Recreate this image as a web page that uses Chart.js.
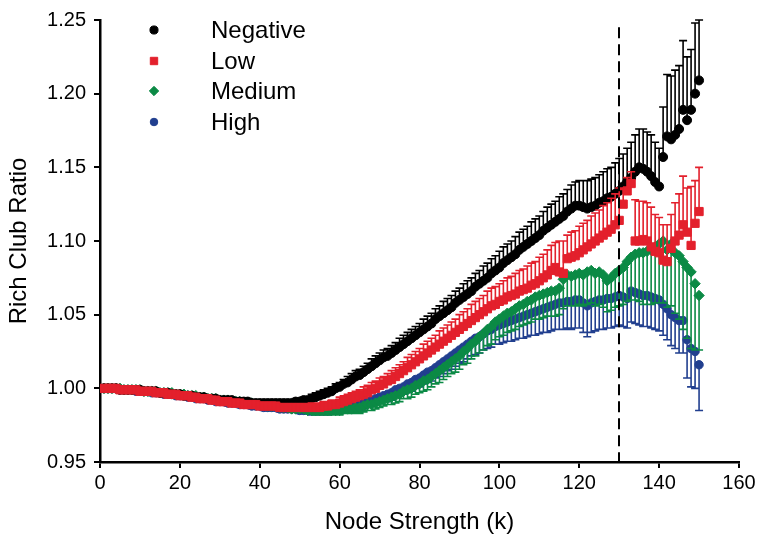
<!DOCTYPE html>
<html>
<head>
<meta charset="utf-8">
<script src="https://cdn.jsdelivr.net/npm/chart.js@4.4.1/dist/chart.umd.min.js"></script>
<style>
  html, body { margin: 0; padding: 0; background: #fff; }
</style>
</head>
<body>
<canvas id="chart" width="760" height="547"></canvas>
<script>
// node strength k for every point
const nodeStrength = [
  1,2,3,4,5,6,7,8,9,10,11,12,13,14,15,16,17,18,19,20,
  21,22,23,24,25,26,27,28,29,30,31,32,33,34,35,36,37,38,39,40,
  41,42,43,44,45,46,47,48,49,50,51,52,53,54,55,56,57,58,59,60,
  61,62,63,64,65,66,67,68,69,70,71,72,73,74,75,76,77,78,79,80,
  81,82,83,84,85,86,87,88,89,90,91,92,93,94,95,96,97,98,99,100,
  101,102,103,104,105,106,107,108,109,110,111,112,113,114,115,116,117,118,119,120,
  121,122,123,124,125,126,127,128,129,130,131,132,133,134,135,136,137,138,139,140,
  141,142,143,144,145,146,147,148,149,150
];

const negative = [
  1.000,1.000,1.000,1.000,0.999,0.999,0.999,0.999,0.999,0.999,
  0.998,0.998,0.998,0.998,0.997,0.997,0.997,0.996,0.996,0.996,
  0.995,0.995,0.995,0.994,0.994,0.994,0.993,0.993,0.993,0.992,
  0.992,0.992,0.992,0.991,0.991,0.991,0.991,0.990,0.990,0.990,
  0.990,0.990,0.990,0.990,0.990,0.990,0.990,0.990,0.991,0.991,
  0.992,0.992,0.993,0.994,0.995,0.996,0.997,0.998,1.000,1.001,
  1.003,1.004,1.006,1.008,1.009,1.011,1.013,1.015,1.017,1.019,
  1.021,1.022,1.024,1.026,1.028,1.030,1.032,1.034,1.036,1.038,
  1.040,1.042,1.044,1.047,1.049,1.051,1.053,1.055,1.058,1.060,
  1.062,1.064,1.066,1.069,1.071,1.073,1.075,1.078,1.080,1.082,
  1.085,1.087,1.089,1.091,1.094,1.096,1.098,1.100,1.102,1.104,
  1.107,1.109,1.111,1.113,1.115,1.117,1.120,1.122,1.124,1.124,
  1.123,1.122,1.123,1.124,1.126,1.127,1.129,1.130,1.132,1.134,
  1.137,1.140,1.143,1.147,1.150,1.149,1.147,1.144,1.140,1.137,
  1.157,1.171,1.169,1.172,1.176,1.189,1.182,1.189,1.200,1.209
];
const negativeErr = [
  0.001,0.001,0.001,0.001,0.001,0.001,0.001,0.001,0.001,0.001,
  0.001,0.001,0.001,0.001,0.001,0.001,0.001,0.001,0.001,0.001,
  0.001,0.001,0.001,0.001,0.001,0.001,0.001,0.001,0.001,0.001,
  0.001,0.001,0.001,0.002,0.002,0.002,0.002,0.002,0.002,0.002,
  0.002,0.002,0.002,0.002,0.002,0.002,0.002,0.002,0.002,0.002,
  0.002,0.002,0.003,0.003,0.003,0.003,0.003,0.003,0.003,0.003,
  0.003,0.004,0.004,0.004,0.004,0.004,0.004,0.005,0.005,0.005,
  0.005,0.005,0.005,0.005,0.006,0.006,0.006,0.006,0.006,0.006,
  0.007,0.007,0.007,0.007,0.007,0.008,0.008,0.008,0.008,0.008,
  0.009,0.009,0.009,0.009,0.009,0.010,0.010,0.010,0.010,0.011,
  0.011,0.011,0.011,0.012,0.012,0.012,0.012,0.013,0.013,0.013,
  0.013,0.014,0.014,0.014,0.015,0.015,0.015,0.016,0.016,0.017,
  0.018,0.019,0.019,0.019,0.019,0.020,0.020,0.020,0.021,0.022,
  0.022,0.023,0.024,0.025,0.026,0.027,0.027,0.028,0.027,0.026,
  0.034,0.042,0.043,0.044,0.043,0.047,0.043,0.041,0.048,0.041
];

const low = [
  1.000,1.000,1.000,1.000,0.999,0.999,0.999,0.999,0.999,0.998,
  0.998,0.998,0.998,0.997,0.997,0.997,0.996,0.996,0.996,0.995,
  0.995,0.995,0.994,0.994,0.993,0.993,0.993,0.992,0.992,0.991,
  0.991,0.991,0.990,0.990,0.990,0.989,0.989,0.989,0.989,0.988,
  0.988,0.988,0.988,0.988,0.987,0.987,0.987,0.987,0.987,0.987,
  0.987,0.987,0.987,0.987,0.987,0.988,0.988,0.989,0.989,0.990,
  0.991,0.992,0.993,0.994,0.995,0.996,0.997,0.999,1.000,1.002,
  1.003,1.005,1.006,1.008,1.010,1.012,1.014,1.016,1.018,1.020,
  1.022,1.024,1.026,1.028,1.030,1.032,1.034,1.036,1.038,1.040,
  1.042,1.044,1.046,1.048,1.050,1.052,1.054,1.056,1.057,1.059,
  1.060,1.062,1.063,1.064,1.066,1.067,1.068,1.070,1.071,1.073,
  1.075,1.077,1.080,1.082,1.079,1.078,1.088,1.089,1.090,1.092,
  1.094,1.096,1.098,1.100,1.102,1.104,1.106,1.108,1.111,1.114,
  1.125,1.134,1.139,1.100,1.100,1.101,1.100,1.096,1.093,1.092,
  1.087,1.086,1.095,1.100,1.104,1.111,1.106,1.097,1.112,1.120
];
const lowErr = [
  0.001,0.001,0.001,0.001,0.001,0.001,0.001,0.001,0.001,0.001,
  0.001,0.001,0.001,0.001,0.001,0.001,0.001,0.001,0.001,0.001,
  0.001,0.001,0.001,0.001,0.001,0.001,0.001,0.001,0.001,0.001,
  0.002,0.002,0.002,0.002,0.002,0.002,0.002,0.002,0.002,0.002,
  0.002,0.002,0.002,0.002,0.002,0.002,0.002,0.002,0.002,0.002,
  0.002,0.002,0.003,0.003,0.003,0.003,0.003,0.003,0.003,0.004,
  0.004,0.004,0.004,0.004,0.004,0.005,0.005,0.005,0.005,0.005,
  0.005,0.005,0.006,0.006,0.006,0.006,0.007,0.007,0.007,0.007,
  0.008,0.008,0.008,0.008,0.009,0.009,0.009,0.009,0.009,0.010,
  0.010,0.010,0.011,0.011,0.011,0.011,0.012,0.012,0.012,0.012,
  0.013,0.013,0.013,0.014,0.014,0.014,0.015,0.015,0.015,0.016,
  0.016,0.017,0.017,0.017,0.021,0.022,0.016,0.017,0.017,0.018,
  0.018,0.018,0.019,0.019,0.019,0.020,0.020,0.021,0.021,0.022,
  0.010,0.009,0.008,0.028,0.027,0.026,0.026,0.027,0.025,0.024,
  0.024,0.025,0.023,0.026,0.028,0.033,0.030,0.040,0.029,0.030
];

const medium = [
  1.000,1.000,1.000,1.000,1.000,0.999,0.999,0.999,0.999,0.999,
  0.998,0.998,0.998,0.998,0.997,0.997,0.997,0.997,0.996,0.996,
  0.996,0.995,0.995,0.995,0.994,0.994,0.993,0.993,0.993,0.992,
  0.992,0.992,0.991,0.991,0.991,0.990,0.990,0.990,0.989,0.989,
  0.989,0.988,0.988,0.988,0.987,0.987,0.987,0.986,0.986,0.986,
  0.986,0.985,0.985,0.985,0.985,0.985,0.985,0.985,0.985,0.985,
  0.986,0.986,0.986,0.987,0.987,0.988,0.989,0.989,0.990,0.991,
  0.992,0.993,0.994,0.995,0.996,0.998,0.999,1.000,1.002,1.003,
  1.005,1.006,1.008,1.010,1.012,1.014,1.016,1.018,1.020,1.022,
  1.025,1.027,1.030,1.032,1.035,1.037,1.040,1.042,1.045,1.047,
  1.049,1.051,1.052,1.054,1.056,1.057,1.059,1.060,1.062,1.063,
  1.064,1.065,1.066,1.066,1.068,1.074,1.077,1.076,1.077,1.078,
  1.077,1.079,1.080,1.078,1.079,1.077,1.073,1.075,1.078,1.080,
  1.082,1.086,1.089,1.091,1.092,1.092,1.093,1.094,1.096,1.098,
  1.100,1.094,1.098,1.092,1.090,1.086,1.082,1.079,1.071,1.063
];
const mediumErr = [
  0.001,0.001,0.001,0.001,0.001,0.001,0.001,0.001,0.001,0.001,
  0.001,0.001,0.001,0.001,0.001,0.001,0.001,0.001,0.001,0.001,
  0.001,0.001,0.001,0.001,0.001,0.001,0.001,0.001,0.001,0.001,
  0.002,0.002,0.002,0.002,0.002,0.002,0.002,0.002,0.002,0.002,
  0.002,0.002,0.002,0.002,0.002,0.002,0.002,0.002,0.002,0.002,
  0.002,0.002,0.002,0.003,0.003,0.003,0.003,0.003,0.003,0.003,
  0.003,0.003,0.003,0.003,0.004,0.004,0.004,0.004,0.004,0.004,
  0.004,0.004,0.005,0.005,0.005,0.005,0.006,0.006,0.006,0.006,
  0.007,0.007,0.007,0.007,0.008,0.008,0.008,0.008,0.009,0.009,
  0.009,0.010,0.010,0.010,0.011,0.011,0.011,0.012,0.012,0.012,
  0.013,0.013,0.013,0.014,0.014,0.014,0.015,0.015,0.015,0.016,
  0.016,0.016,0.017,0.017,0.018,0.020,0.021,0.020,0.021,0.021,
  0.021,0.022,0.022,0.022,0.022,0.022,0.021,0.022,0.023,0.024,
  0.025,0.027,0.029,0.031,0.033,0.035,0.036,0.037,0.038,0.040,
  0.042,0.039,0.042,0.041,0.043,0.046,0.048,0.052,0.045,0.037
];

const high = [
  1.000,1.000,1.000,1.000,0.999,0.999,0.999,0.999,0.998,0.998,
  0.998,0.998,0.997,0.997,0.997,0.996,0.996,0.996,0.995,0.995,
  0.995,0.994,0.994,0.993,0.993,0.993,0.992,0.992,0.991,0.991,
  0.991,0.990,0.990,0.990,0.989,0.989,0.989,0.988,0.988,0.988,
  0.987,0.987,0.987,0.987,0.986,0.986,0.986,0.986,0.986,0.985,
  0.985,0.985,0.985,0.985,0.985,0.985,0.985,0.986,0.986,0.986,
  0.987,0.987,0.988,0.988,0.989,0.990,0.991,0.992,0.993,0.994,
  0.995,0.996,0.997,0.999,1.000,1.001,1.003,1.004,1.006,1.007,
  1.009,1.011,1.012,1.014,1.016,1.018,1.020,1.022,1.024,1.026,
  1.028,1.030,1.032,1.034,1.035,1.037,1.039,1.040,1.042,1.043,
  1.044,1.045,1.046,1.047,1.048,1.049,1.050,1.051,1.052,1.053,
  1.054,1.055,1.056,1.057,1.058,1.058,1.059,1.059,1.060,1.060,
  1.058,1.056,1.058,1.059,1.060,1.060,1.061,1.061,1.062,1.063,
  1.062,1.061,1.066,1.065,1.064,1.063,1.063,1.062,1.061,1.060,
  1.057,1.054,1.050,1.048,1.046,1.046,1.033,1.027,1.025,1.016
];
const highErr = [
  0.001,0.001,0.001,0.001,0.001,0.001,0.001,0.001,0.001,0.001,
  0.001,0.001,0.001,0.001,0.001,0.001,0.001,0.001,0.001,0.001,
  0.001,0.001,0.001,0.001,0.001,0.001,0.001,0.001,0.001,0.001,
  0.002,0.002,0.002,0.002,0.002,0.002,0.002,0.002,0.002,0.002,
  0.002,0.002,0.002,0.002,0.002,0.002,0.002,0.002,0.002,0.002,
  0.002,0.002,0.003,0.003,0.003,0.003,0.003,0.003,0.003,0.003,
  0.003,0.003,0.003,0.004,0.004,0.004,0.004,0.004,0.004,0.004,
  0.004,0.005,0.005,0.005,0.005,0.005,0.006,0.006,0.006,0.006,
  0.006,0.007,0.007,0.007,0.008,0.008,0.008,0.009,0.009,0.009,
  0.010,0.010,0.010,0.011,0.011,0.011,0.012,0.012,0.012,0.013,
  0.013,0.013,0.014,0.014,0.014,0.015,0.015,0.015,0.016,0.016,
  0.016,0.017,0.017,0.017,0.018,0.018,0.018,0.019,0.019,0.019,
  0.020,0.021,0.020,0.020,0.020,0.020,0.020,0.020,0.020,0.020,
  0.020,0.020,0.021,0.021,0.021,0.021,0.021,0.021,0.021,0.021,
  0.021,0.021,0.021,0.021,0.022,0.022,0.026,0.026,0.025,0.031
];

const xTicks = [0, 20, 40, 60, 80, 100, 120, 140, 160];
const yTicks = [0.95, 1.00, 1.05, 1.10, 1.15, 1.20, 1.25];
const cutoffK = 130;      // dashed line
const cutoffTop = 1.245;

const FONT = "'Liberation Sans', Arial, sans-serif";

function points(values) {
  return values.map((v, i) => ({ x: nodeStrength[i], y: v }));
}

// error bars: drawn just before each dataset's own markers
const errorBars = {
  id: 'errorBars',
  beforeDatasetDraw(chart, args) {
    const ds = chart.data.datasets[args.index];
    if (!ds.errors) return;
    const xs = chart.scales.x, ys = chart.scales.y;
    const ctx = chart.ctx;
    ctx.save();
    ctx.strokeStyle = ds.borderColor;
    ctx.lineWidth = 1.6;
    ctx.beginPath();
    ds.data.forEach((p, i) => {
      const px = xs.getPixelForValue(p.x);
      const y0 = ys.getPixelForValue(p.y);
      const y1 = ys.getPixelForValue(p.y + ds.errDir * ds.errors[i]);
      ctx.moveTo(px, y0);
      ctx.lineTo(px, y1);
      ctx.moveTo(px - 4, y1);
      ctx.lineTo(px + 4, y1);
    });
    ctx.stroke();
    ctx.restore();
  }
};

const cutLine = {
  id: 'cutLine',
  afterDatasetsDraw(chart) {
    const { ctx, scales: { x, y } } = chart;
    const px = Math.round(x.getPixelForValue(cutoffK));
    ctx.save();
    ctx.strokeStyle = '#000';
    ctx.lineWidth = 2;
    ctx.setLineDash([11, 6]);
    ctx.beginPath();
    ctx.moveTo(px, y.getPixelForValue(cutoffTop));
    ctx.lineTo(px, y.getPixelForValue(yTicks[0]));
    ctx.stroke();
    ctx.restore();
  }
};

// legend in the upper left corner of the plot
const cornerLegend = {
  id: 'cornerLegend',
  afterDraw(chart) {
    const ctx = chart.ctx;
    ctx.save();
    ctx.font = '24px ' + FONT;
    ctx.textBaseline = 'middle';
    const rows = [30, 61, 91, 122];
    chart.data.datasets.forEach(ds => {
      const y = rows[ds.legendRow];
      ctx.fillStyle = ds.backgroundColor;
      ctx.strokeStyle = ds.borderColor;
      ctx.lineWidth = 1;
      Chart.helpers.drawPoint(ctx, {
        pointStyle: ds.pointStyle, radius: ds.pointRadius * 0.9, rotation: 0, borderWidth: 1
      }, 154, y);
      ctx.fillStyle = '#000';
      ctx.fillText(ds.label, 211, y + 1);
    });
    ctx.restore();
  }
};

new Chart(document.getElementById('chart'), {
  type: 'scatter',
  data: {
    datasets: [
      { label: 'Low', data: points(low), errors: lowErr, errDir: 1, legendRow: 1, order: 0,
        pointStyle: 'rect', pointRadius: 5.8, backgroundColor: '#e3202c', borderColor: '#e3202c' },
      { label: 'Negative', data: points(negative), errors: negativeErr, errDir: 1, legendRow: 0, order: 1,
        pointStyle: 'circle', pointRadius: 4.5, backgroundColor: '#000000', borderColor: '#000000' },
      { label: 'Medium', data: points(medium), errors: mediumErr, errDir: -1, legendRow: 2, order: 2,
        pointStyle: 'rectRot', pointRadius: 5.2, backgroundColor: '#0b8a45', borderColor: '#0b8a45' },
      { label: 'High', data: points(high), errors: highErr, errDir: -1, legendRow: 3, order: 3,
        pointStyle: 'circle', pointRadius: 4.2, backgroundColor: '#213f8f', borderColor: '#213f8f' }
    ]
  },
  options: {
    responsive: false,
    animation: false,
    devicePixelRatio: 1,
    layout: { padding: { top: 15, right: 21, bottom: 0, left: 0 } },
    elements: { point: { borderWidth: 1, hoverRadius: 4 } },
    plugins: { legend: { display: false }, tooltip: { enabled: false } },
    scales: {
      x: {
        type: 'linear',
        min: xTicks[0], max: xTicks[xTicks.length - 1],
        afterBuildTicks: s => { s.ticks = xTicks.map(v => ({ value: v })); },
        afterFit: s => { s.height = 85; },
        border: { display: true, color: '#000', width: 2.5 },
        grid: { display: true, drawOnChartArea: false, drawTicks: true, tickLength: 6, color: '#000', lineWidth: 2 },
        ticks: { color: '#000', padding: 3, font: { family: FONT, size: 20 }, maxRotation: 0 },
        title: { display: true, text: 'Node Strength (k)', color: '#000',
                 font: { family: FONT, size: 24 }, padding: { top: 0, bottom: 10 } }
      },
      y: {
        type: 'linear',
        min: yTicks[0], max: yTicks[yTicks.length - 1],
        afterBuildTicks: s => { s.ticks = yTicks.map(v => ({ value: v })); },
        afterFit: s => { s.width = 100; },
        border: { display: true, color: '#000', width: 2.5 },
        grid: { display: true, drawOnChartArea: false, drawTicks: true, tickLength: 6, color: '#000', lineWidth: 2 },
        ticks: { color: '#000', padding: 8, font: { family: FONT, size: 20 }, callback: v => v.toFixed(2) },
        title: { display: true, text: 'Rich Club Ratio', color: '#000',
                 font: { family: FONT, size: 24 }, padding: { top: 5, bottom: 0 } }
      }
    }
  },
  plugins: [errorBars, cutLine, cornerLegend]
});
</script>
</body>
</html>
